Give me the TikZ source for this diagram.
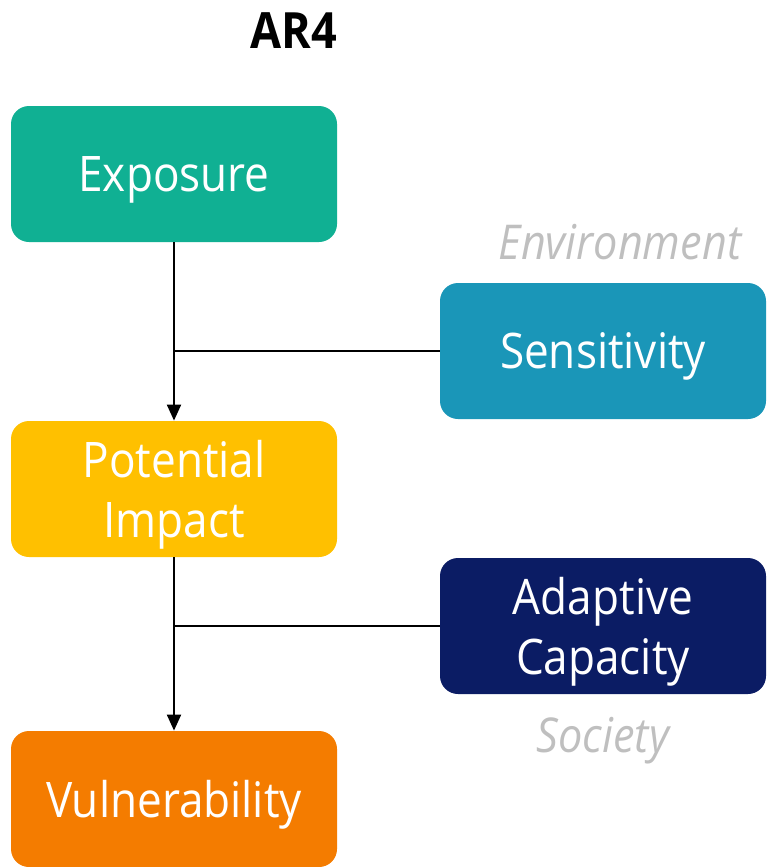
\documentclass[tikz,border=0pt]{standalone}
\usepackage{fontspec}
\setmainfont{Open Sans}[FakeStretch=0.9]
\usetikzlibrary{arrows.meta, positioning}
\definecolor{exposurecol}{HTML}{10B093}
\definecolor{sensitivitycol}{HTML}{1A96B8}
\definecolor{impactcol}{HTML}{FFC000}
\definecolor{adaptivecol}{HTML}{0B1C64}
\definecolor{vulnerabilitycol}{HTML}{F47C00}
\definecolor{labelgray}{HTML}{BFBFBF}

\begin{document}
\begin{tikzpicture}[x=0.5pt,y=-0.5pt,node distance=157.5pt,on grid,
        box/.style={rectangle, rounded corners=9pt, minimum width=163pt, minimum height=68pt,
                    text=white, align=center, text depth=0pt, font=\fontsize{24.5}{30}\selectfont},
        tag/.style={text=labelgray, font=\fontsize{24}{28}\selectfont\itshape},
        link/.style={line width=1pt, -{Triangle[length=8pt,width=7pt]}}]
        \useasboundingbox (0,0) rectangle (769,867);

        \node[box, fill=exposurecol]        (exposure)      at (174,174)                        {Exposure};
        \node[box, fill=impactcol]          (impact)        [below=of exposure]                 {Potential\\Impact};
        \node[box, fill=vulnerabilitycol]   (vulnerability) [below=155pt of impact]             {Vulnerability};
        \node[box, fill=sensitivitycol]     (sensitivity)   [below right=88.5pt and 214.5pt of exposure] {Sensitivity};
        \node[box, fill=adaptivecol]        (adaptive)      [below=137.5pt of sensitivity]      {Adaptive\\Capacity};

        \node[font=\fontsize{25}{30}\selectfont\bfseries] (title) [above right=71.5pt and 60pt of exposure] {AR4};
        \node[tag] (environment) [above right=54.5pt and 8.5pt of sensitivity] {Environment};
        \node[tag] (society)     [below=57.5pt of adaptive]                    {Society};

        \coordinate (join1) at (sensitivity.west -| exposure.south);
        \coordinate (join2) at (adaptive.west -| impact.south);

        \draw[link] (exposure) -- (impact);
        \draw[link] (impact) -- (vulnerability);
        \draw[line width=1pt] (sensitivity) -- (join1);
        \draw[line width=1pt] (adaptive) -- (join2);
    \end{tikzpicture}
\end{document}
